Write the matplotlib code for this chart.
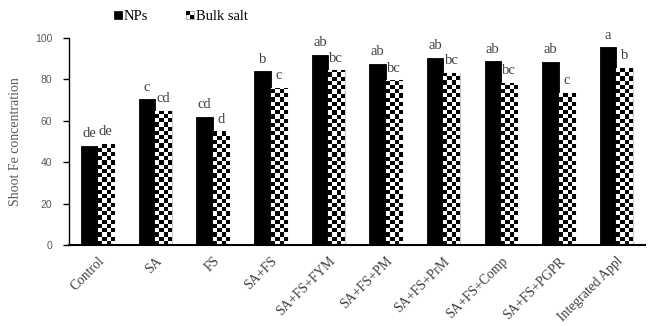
import numpy as np
import matplotlib
matplotlib.use("Agg")
import matplotlib.pyplot as plt
from matplotlib.patches import Rectangle, Patch
from matplotlib.legend_handler import HandlerBase

treatments = ['Control', 'SA', 'FS', 'SA+FS', 'SA+FS+FYM', 'SA+FS+PM',
              'SA+FS+PrM', 'SA+FS+Comp', 'SA+FS+PGPR', 'Integrated Appl']
nps = [47.9, 70.3, 61.8, 83.8, 91.7, 87.6, 90.4, 88.6, 88.3, 95.4]
bulk = [48.9, 64.7, 54.9, 76.0, 84.3, 79.4, 83.1, 78.3, 73.5, 85.6]
nps_letters = ['de', 'c', 'cd', 'b', 'ab', 'ab', 'ab', 'ab', 'ab', 'a']
bulk_letters = ['de', 'cd', 'd', 'c', 'bc', 'bc', 'bc', 'bc', 'c', 'b']

serif = ['Liberation Serif', 'DejaVu Serif']
sans = ['Liberation Sans', 'DejaVu Sans']

fig = plt.figure(figsize=(6.49, 3.26), dpi=100)
ax = fig.add_axes([0.106, 0.2485, 0.888, 0.6355])

x = np.arange(len(treatments))
w = 0.285
ax.set_xlim(-0.5, len(treatments) - 0.5)
ax.set_ylim(0, 100)

ax.bar(x - w / 2, nps, w, color='black', edgecolor='black', linewidth=0.6, zorder=2)
bulk_bars = ax.bar(x + w / 2, bulk, w, color='white', edgecolor='#c8c8c8',
                   linewidth=0.8, zorder=2)

# checkerboard fill for the bulk salt bars, cell size given in pixels
fig.canvas.draw()
bbox = ax.get_window_extent()
px_x = (ax.get_xlim()[1] - ax.get_xlim()[0]) / bbox.width
px_y = (ax.get_ylim()[1] - ax.get_ylim()[0]) / bbox.height
cell = 4.2
for rect in bulk_bars:
    x0, y0 = rect.get_x(), rect.get_y()
    bw, bh = rect.get_width(), rect.get_height()
    nc = int(np.ceil(bw / (cell * px_x)))
    nr = int(np.ceil(bh / (cell * px_y)))
    board = (np.add.outer(np.arange(nr), np.arange(nc)) % 2).astype(float)
    im = ax.imshow(board, cmap='gray', origin='lower', interpolation='nearest',
                   extent=[x0, x0 + nc * cell * px_x, y0, y0 + nr * cell * px_y],
                   aspect='auto', zorder=2.5)
    im.set_clip_path(rect)
ax.set_xlim(-0.5, len(treatments) - 0.5)
ax.set_ylim(0, 100)

for xi, v, t in zip(x - w / 2, nps, nps_letters):
    ax.annotate(t, (xi, v), xytext=(0, 4), textcoords='offset points',
                ha='center', va='bottom', fontsize=10.5, family=serif, color='#404040')
for xi, v, t in zip(x + w / 2, bulk, bulk_letters):
    ax.annotate(t, (xi, v), xytext=(0, 4), textcoords='offset points',
                ha='center', va='bottom', fontsize=10.5, family=serif, color='#404040')

ax.spines['top'].set_visible(False)
ax.spines['right'].set_visible(False)
ax.spines['bottom'].set_linewidth(1.5)
ax.spines['left'].set_linewidth(1.0)

ax.set_yticks(range(0, 101, 20))
ax.tick_params(axis='y', direction='out', length=4, width=1, pad=8,
               labelsize=7.5, labelcolor='#595959')
for lab in ax.get_yticklabels():
    lab.set_family(sans)
ax.set_xticks(x)
ax.set_xticklabels(treatments, rotation=45, ha='right', rotation_mode='anchor',
                   fontsize=9.8, family=serif, color='#404040')
ax.tick_params(axis='x', length=0, pad=7)
ax.set_ylabel('Shoot Fe concentration', fontsize=10, family=serif, color='#595959',
              labelpad=9)


class CheckerHandler(HandlerBase):
    def create_artists(self, legend, orig_handle, xdescent, ydescent,
                       width, height, fontsize, trans):
        s = min(width, height)
        x0 = width - s - xdescent
        y0 = -ydescent + (height - s) / 2
        h = s / 2
        arts = [Rectangle((x0, y0), s, s, facecolor='white', edgecolor='#888888', lw=0.5),
                Rectangle((x0, y0 + h), h, h, facecolor='black', lw=0),
                Rectangle((x0 + h, y0), h, h, facecolor='black', lw=0)]
        for a in arts:
            a.set_transform(trans)
        return arts


class SquareHandler(HandlerBase):
    def create_artists(self, legend, orig_handle, xdescent, ydescent,
                       width, height, fontsize, trans):
        s = min(width, height)
        r = Rectangle((width - s - xdescent, -ydescent + (height - s) / 2), s, s,
                      facecolor='black', edgecolor='black', lw=0.5, transform=trans)
        return [r]


h_np = Patch(facecolor='black')
h_bulk = Patch(facecolor='white')
fig.legend([h_np, h_bulk], ['NPs', 'Bulk salt'],
           handler_map={h_np: SquareHandler(), h_bulk: CheckerHandler()},
           loc='center', bbox_to_anchor=(0.279, 0.95), ncol=2, frameon=False,
           prop={'family': serif, 'size': 10.5}, handlelength=0.55, handleheight=0.55,
           handletextpad=0.15, columnspacing=2.6)

fig.savefig('out.png', dpi=100)
